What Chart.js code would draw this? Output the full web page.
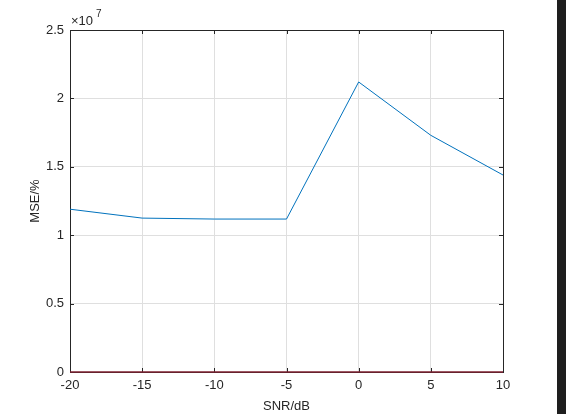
<!DOCTYPE html>
<html>
<head>
<meta charset="utf-8">
<script src="https://cdn.jsdelivr.net/npm/chart.js@4/dist/chart.umd.min.js"></script>
<style>
  html, body { margin: 0; padding: 0; background: #fff; }
  canvas { display: block; }
</style>
</head>
<body>
<canvas id="chart" width="566" height="414"></canvas>
<script>
const snr = [-20, -15, -10, -5, 0, 5, 10]
const mse = [1.19e7, 1.125e7, 1.118e7, 1.118e7, 2.12e7, 1.73e7, 1.44e7]
const baseline = [0, 0, 0, 0, 0, 0, 0]
const xTickLabels = ['-20', '-15', '-10', '-5', '0', '5', '10']

const FONT = 'Liberation Sans, Arial, sans-serif'

// MATLAB-ish box, inward ticks, exponent label, dark strip at the right edge
const matlabBox = {
  id: 'matlabBox',
  beforeDatasetsDraw(chart) {
    const { ctx, chartArea: a, scales } = chart
    ctx.save()
    ctx.strokeStyle = '#262626'
    ctx.lineWidth = 1
    ctx.strokeRect(Math.round(a.left) + 0.5, Math.round(a.top) + 0.5,
      Math.round(a.right - a.left), Math.round(a.bottom - a.top))

    ctx.beginPath()
    scales.x.ticks.forEach(t => {
      const x = Math.round(scales.x.getPixelForValue(t.value)) + 0.5
      ctx.moveTo(x, a.bottom); ctx.lineTo(x, a.bottom - 4)
      ctx.moveTo(x, a.top); ctx.lineTo(x, a.top + 4)
    })
    scales.y.ticks.forEach(t => {
      const y = Math.round(scales.y.getPixelForValue(t.value)) + 0.5
      ctx.moveTo(a.left, y); ctx.lineTo(a.left + 4, y)
      ctx.moveTo(a.right, y); ctx.lineTo(a.right - 4, y)
    })
    ctx.stroke()
    ctx.restore()
  },
  afterDraw(chart) {
    const { ctx, chartArea: a } = chart
    ctx.save()
    ctx.fillStyle = '#262626'
    ctx.textBaseline = 'alphabetic'
    ctx.font = '13px ' + FONT
    ctx.fillText('\u00d710', a.left + 1, a.top - 5)
    ctx.font = '10px ' + FONT
    ctx.fillText('7', a.left + 26, a.top - 13)

    ctx.fillStyle = '#1e1e1e'
    ctx.fillRect(557, 0, 9, 414)
    ctx.restore()
  }
}

new Chart(document.getElementById('chart'), {
  type: 'line',
  data: {
    datasets: [
      {
        label: 'MSE',
        data: snr.map((x, i) => ({ x, y: mse[i] })),
        borderColor: '#0072bd',
        borderWidth: 1,
        pointRadius: 0,
        tension: 0
      },
      {
        label: 'baseline',
        data: snr.map((x, i) => ({ x, y: baseline[i] })),
        borderColor: '#7e2130',
        borderWidth: 1.5,
        pointRadius: 0,
        tension: 0,
        clip: false
      }
    ]
  },
  plugins: [matlabBox],
  options: {
    responsive: false,
    animation: false,
    layout: { padding: { top: 30, right: 63, left: 0, bottom: 0 } },
    plugins: {
      legend: { display: false },
      tooltip: { enabled: false }
    },
    scales: {
      x: {
        type: 'linear',
        min: -20,
        max: 10,
        afterFit: s => { s.height = 42 },
        afterBuildTicks: s => { s.ticks = snr.map(v => ({ value: v })) },
        grid: { color: '#dfdfdf', drawTicks: false },
        border: { display: false },
        ticks: {
          autoSkip: false,
          maxRotation: 0,
          padding: 6,
          color: '#262626',
          font: { family: FONT, size: 13 },
          callback: (v, i) => xTickLabels[i]
        },
        title: {
          display: true,
          text: 'SNR/dB',
          color: '#262626',
          font: { family: FONT, size: 13 },
          padding: { top: 2, bottom: 0 }
        }
      },
      y: {
        min: 0,
        max: 2.5e7,
        afterFit: s => { s.width = 70 },
        grid: { color: '#dfdfdf', drawTicks: false },
        border: { display: false },
        ticks: {
          stepSize: 5e6,
          padding: 6,
          color: '#262626',
          font: { family: FONT, size: 13 },
          callback: v => String(v / 1e7)
        },
        title: {
          display: true,
          text: 'MSE/%',
          color: '#262626',
          font: { family: FONT, size: 13 },
          padding: { top: 28, bottom: 4 }
        }
      }
    }
  }
})
</script>
</body>
</html>
